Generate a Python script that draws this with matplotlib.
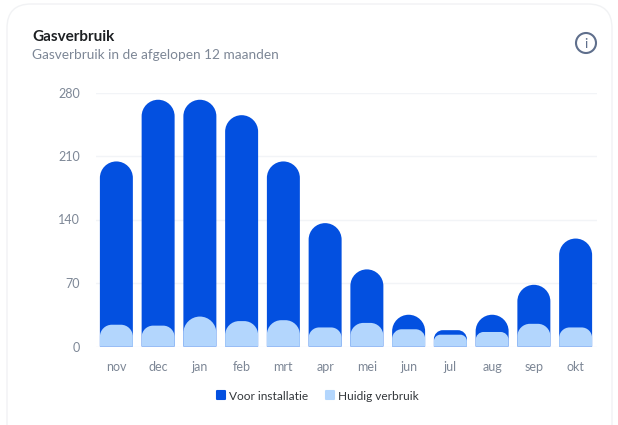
import matplotlib
matplotlib.use('Agg')
import matplotlib.pyplot as plt
from matplotlib.lines import Line2D
from matplotlib.markers import MarkerStyle
from matplotlib.patches import Circle, FancyBboxPatch, PathPatch
from matplotlib.path import Path

months = ['nov', 'dec', 'jan', 'feb', 'mrt', 'apr', 'mei', 'jun', 'jul', 'aug', 'sep', 'okt']
before_install = [204, 272, 272, 255, 204, 136, 85, 35, 18, 35, 68, 119]
current_use = [24, 23, 33, 28, 29, 21, 26, 19, 13, 16, 25, 21]
y_ticks = [0, 70, 140, 210, 280]

DARK = '#0350e0'
LIGHT = '#b3d6fd'
TICK = '#7d8796'
KAPPA = 0.5523


def _round_bars(ax, bars, color, zorder):
    # swap the square bars for ones with rounded tops, radius is in pixels
    x_px = ax.transData.transform((1, 0))[0] - ax.transData.transform((0, 0))[0]
    y_px = ax.transData.transform((0, 0))[1] - ax.transData.transform((0, 1))[1]
    y_px = abs(y_px)
    for bar in bars:
        x0, w, h = bar.get_x(), bar.get_width(), bar.get_height()
        r = min(w * x_px / 2, h * y_px * 0.55)
        rx, ry = r / x_px, r / y_px
        x1 = x0 + w
        verts = [
            (x0, 0), (x0, h - ry),
            (x0, h - ry + ry * KAPPA), (x0 + rx - rx * KAPPA, h), (x0 + rx, h),
            (x1 - rx, h),
            (x1 - rx + rx * KAPPA, h), (x1, h - ry + ry * KAPPA), (x1, h - ry),
            (x1, 0), (x0, 0),
        ]
        codes = [Path.MOVETO, Path.LINETO, Path.CURVE4, Path.CURVE4, Path.CURVE4, Path.LINETO,
                 Path.CURVE4, Path.CURVE4, Path.CURVE4, Path.LINETO, Path.CLOSEPOLY]
        ax.add_patch(PathPatch(Path(verts, codes), facecolor=color, edgecolor='none', zorder=zorder))
        bar.set_visible(False)


def _main() -> None:
    plt.rcParams['font.family'] = ['Lato', 'DejaVu Sans']
    fig = plt.figure(figsize=(6.18, 4.25), dpi=100, facecolor='white')

    # overlay in pixel coordinates for the card, the header and the icon
    bg = fig.add_axes([0, 0, 1, 1])
    bg.set_xlim(0, 618)
    bg.set_ylim(425, 0)
    bg.axis('off')
    bg.add_patch(FancyBboxPatch((7, 4), 605, 460, boxstyle='round,pad=0,rounding_size=24',
                                facecolor='white', edgecolor='#f1f2f4', linewidth=1))
    bg.text(32, 36.5, 'Gasverbruik', fontsize=11, fontweight='bold', color='#1d2023', va='center')
    bg.text(32, 54.5, 'Gasverbruik in de afgelopen 12 maanden', fontsize=9.8, color='#7d8796', va='center')
    bg.add_patch(Circle((586, 43), 10, facecolor='none', edgecolor='#5f6f8c', linewidth=1.5))
    bg.text(586, 43.5, 'i', fontsize=10, color='#5f6f8c', ha='center', va='center')

    ax = fig.add_axes([95.5 / 618, 1 - 346.5 / 425, 501 / 618, 254 / 425])
    ax.patch.set_alpha(0)
    x = range(len(months))
    ax.set_xlim(-0.5, len(months) - 0.5)
    ax.set_ylim(0, 280)
    dark = ax.bar(x, before_install, width=0.79, color=DARK)
    light = ax.bar(x, current_use, width=0.79, color=LIGHT)
    _round_bars(ax, dark, DARK, 3)
    _round_bars(ax, light, LIGHT, 4)

    ax.set_yticks(y_ticks)
    ax.set_xticks(list(x), months)
    ax.grid(axis='y', color='#f2f4f7', linewidth=1)
    ax.set_axisbelow(True)
    ax.tick_params(axis='both', length=0, labelsize=9, labelcolor=TICK)
    ax.tick_params(axis='x', pad=10.5)
    ax.tick_params(axis='y', pad=11)
    for side in ['top', 'right', 'left', 'bottom']:
        ax.spines[side].set_visible(False)

    marker = MarkerStyle('s', joinstyle='round')
    handles = [Line2D([], [], linestyle='none', marker=marker, markersize=5.5, color=DARK, markeredgewidth=1.5),
               Line2D([], [], linestyle='none', marker=marker, markersize=5.5, color=LIGHT, markeredgewidth=1.5)]
    fig.legend(handles, ['Voor installatie', 'Huidig verbruik'], loc='center', bbox_to_anchor=(317 / 618, 1 - 396 / 425),
               ncol=2, frameon=False, fontsize=8.6, labelcolor='#33373b', handletextpad=0.2, columnspacing=1.3,
               handlelength=1.0, borderpad=0)

    fig.savefig('out.png', dpi=100)


if __name__ == '__main__':
    _main()
